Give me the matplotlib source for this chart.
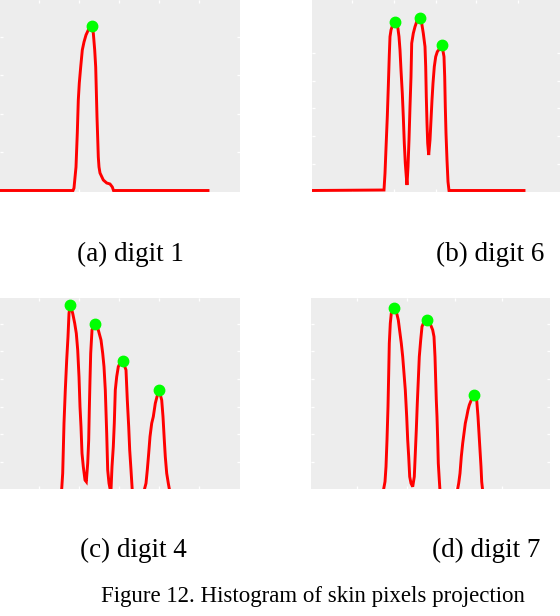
import matplotlib
matplotlib.use('Agg')
import matplotlib.pyplot as plt

# histogram profiles (x = column, h = count in px units)
a_x = [0, 73, 74, 76, 77.3, 78.3, 79.3, 80.7, 82.3, 84, 86, 88.3, 91, 93.3, 94.7,
       95.7, 96.3, 97, 97.7, 98.3, 99, 100, 103.3, 106.7, 110, 112.3, 113.5, 208]
a_h = [1.5, 1.5, 4, 25, 59, 92, 109, 125, 142, 150, 157, 162, 167, 159, 142,
       125, 102, 75, 54, 35, 25, 19, 12, 9, 8, 5, 1.5, 1.5]
a_peak_x = [91.5]
a_peak_h = [166]

b_x = [0, 72, 73, 74, 75.3, 76.3, 77.3, 78, 79, 80.7, 82.7, 85.7, 87, 88, 89, 90.3,
       91.3, 92.3, 93.3, 94.3, 95, 96, 97, 98, 99, 99.7, 101.3, 103, 105.3, 107.7,
       109.7, 111.3, 113, 113.7, 114.3, 115, 115.7, 116.7, 118, 119, 120, 121,
       122.3, 123.7, 125.3, 128, 130, 132, 132.7, 133.3, 134, 135, 136, 137, 212]
b_h = [1.5, 2, 18.7, 43.7, 75.3, 105.3, 137, 155.3, 162, 167, 170.3, 165.3, 155.3,
       142, 122, 98.7, 75.3, 48.7, 28.7, 15.3, 7, 25.3, 52, 85.3, 115.3, 148.7,
       158.7, 165.3, 172, 173.7, 168.7, 158.7, 145.3, 125.3, 95.3, 68.7, 48.7, 37,
       52, 72, 92, 108.7, 125.3, 135.3, 140.3, 143.7, 146.7, 135.3, 115.3, 85.3,
       58.7, 32, 10.3, 1.5, 1.5]
b_peak_x = [82.7, 107.7, 130]
b_peak_h = [170.3, 173.7, 146.7]

c_x = [0, 61, 61.7, 62.7, 64, 65.3, 66.7, 68, 69, 70.3, 72.7, 74.7, 76.3, 77.7, 79,
       80, 81, 82, 83.3, 85, 86.3, 87.7, 88.7, 89.3, 90, 90.7, 92, 95, 98.3, 101,
       102.7, 104, 105.3, 106.7, 107.7, 109, 110.3, 111, 112, 113.3, 114.3, 115.3,
       116.7, 118.3, 120.7, 122.7, 126, 127.3, 128.7, 129.7, 131, 132.3, 144, 146,
       147.3, 148.7, 150, 151.7, 153.3, 155.3, 157, 159, 161.7, 163, 164.3, 165.3,
       166.7, 168.3, 169.7, 240]
c_h = [0, 0, 2, 17.7, 67.7, 101, 131, 154.3, 177.7, 186, 177.7, 167.7, 157.7, 141,
       114.3, 84.3, 64.3, 37.7, 24.3, 11, 9.3, 27.7, 51, 81, 111, 137.7, 161, 166.7,
       161, 151, 137.7, 124.3, 101, 57.7, 21, 7.7, 1, 1, 24.3, 44.3, 67.7, 101,
       114.3, 124.3, 129.3, 130, 121, 91, 64.3, 41, 21, 0, 0, 7.7, 21, 37.7, 54.3,
       67.7, 74.3, 87.7, 94.3, 101, 91, 74.3, 51, 34.3, 17.7, 7.7, 0, 0]
c_peak_x = [70.3, 95, 122.7, 159]
c_peak_h = [186, 166.7, 130, 101]

d_x = [0, 72.3, 74, 75, 76, 77, 77.7, 78.3, 79.3, 80.3, 82.7, 85.7, 87.3, 89, 90.3,
       91.7, 93, 94.3, 95.7, 96.7, 97.7, 98.7, 100, 101.7, 103.3, 104.3, 105.3,
       106.3, 107.3, 108.3, 109.7, 111, 113, 115.7, 119, 121.7, 123, 124, 124.7,
       125.3, 126, 126.7, 127.3, 128.3, 129, 146.3, 147.7, 149, 150.3, 151.7, 153,
       154.3, 155.7, 157, 158.3, 160.3, 162.7, 165.7, 167, 168, 169, 170, 170.7,
       171.7, 239]
d_h = [0, 0, 9.3, 24.3, 51, 84.3, 117.7, 147.7, 167.7, 177.7, 182.7, 177.7, 171,
       157.7, 147.7, 134.3, 117.7, 101, 74.3, 51, 34.3, 14.3, 7.7, 4.3, 14.3, 37.7,
       61, 87.7, 111, 134.3, 151, 164.3, 169.3, 171, 167.7, 161, 154.3, 134.3, 111,
       91, 74.3, 51, 27.7, 11, 0, 0, 7.7, 17.7, 34.3, 47.7, 57.7, 67.7, 74.3, 81,
       86, 91, 95.7, 91, 74.3, 57.7, 41, 24.3, 9.3, 0, 0]
d_peak_x = [82.7, 115.7, 162.7]
d_peak_h = [182.7, 171, 95.7]

captions = ['(a) digit 1', '(b) digit 6', '(c) digit 4', '(d) digit 7']
fig_caption = 'Figure 12. Histogram of skin pixels projection'

W, H = 560, 616
fig = plt.figure(figsize=(W / 100, H / 100), dpi=100)


def px_axes(left, top, right, bottom):
    return fig.add_axes([left / W, 1 - bottom / H, (right - left) / W, (bottom - top) / H])


panels = [
    # (box in px, data, ylim, xticks, yticks)
    ((0, 0, 240, 192), (a_x, a_h, a_peak_x, a_peak_h), (0, 192),
     [39, 79, 119, 159, 199], [40, 78, 117, 155]),
    ((312, 0, 560, 192), (b_x, b_h, b_peak_x, b_peak_h), (0, 192),
     [40, 82, 124, 164, 206], [28, 56, 84, 111, 139]),
    ((0, 298, 240, 489), (c_x, c_h, c_peak_x, c_peak_h), (2, 193),
     [39, 79, 119, 159, 199], [29, 57, 84, 112, 140, 167]),
    ((311, 298, 550, 489), (d_x, d_h, d_peak_x, d_peak_h), (2, 193),
     [46, 96, 144, 191], [29, 57, 84, 112, 140, 167]),
]

for box, (xs, hs, pxs, phs), ylim, xt, yt in panels:
    ax = px_axes(*box)
    ax.set_facecolor('#ededed')
    ax.plot(xs, hs, color='#ff0000', lw=2.1, solid_joinstyle='miter')
    ax.plot(pxs, phs, 'o', color='#00ff00', ms=7.5, mec='#00ff00')
    ax.set_xlim(0, box[2] - box[0])
    ax.set_ylim(*ylim)
    ax.set_xticks(xt)
    ax.set_yticks(yt)
    ax.tick_params(direction='in', colors='white', length=2.5, width=0.9,
                   top=True, right=True, labelbottom=False, labelleft=False)
    for s in ax.spines.values():
        s.set_visible(False)

serif = ['Liberation Serif', 'DejaVu Serif']
cap_pos = [(130.5, 260.7), (490, 260.7), (133, 556.7), (486, 556.7)]
for (x, y), t in zip(cap_pos, captions):
    fig.text(x / W, 1 - y / H, t, ha='center', va='baseline', fontsize=19.5, family=serif)
fig.text(312.5 / W, 1 - 601.7 / H, fig_caption, ha='center', va='baseline',
         fontsize=16.5, family=serif)

fig.savefig('out.png', dpi=100)
